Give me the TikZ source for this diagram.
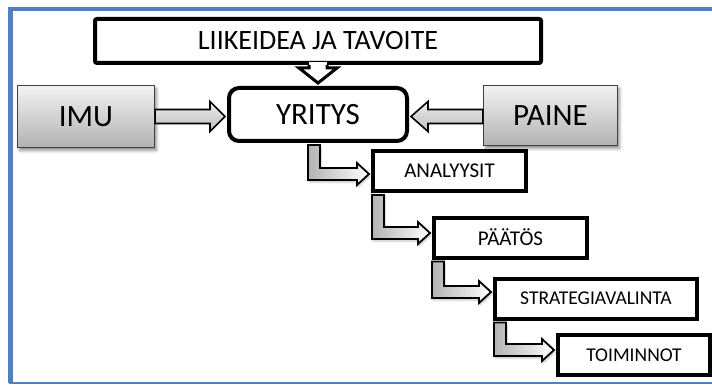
\documentclass[tikz,border=0pt]{standalone}
\usepackage{fontspec}
\setmainfont{Carlito}
\usepackage{tikz}
\usetikzlibrary{calc, shadows.blur}
\usepackage{xcolor}

\definecolor{framebl}{HTML}{4F81BD}

\tikzset{
    ideabox/.style={draw, line width=4pt, rounded corners=2pt, fill=white, inner sep=0pt, font=\fontsize{28}{28}\selectfont},
    firmbox/.style={draw, line width=4pt, rounded corners=10pt, fill=white, inner sep=0pt, font=\fontsize{31}{31}\selectfont},
    forcebox/.style={draw=black!75, line width=1.2pt, top color=black!5, bottom color=black!30, inner sep=0pt,
        blur shadow={shadow xshift=2pt, shadow yshift=-3pt, shadow blur radius=3pt, shadow opacity=45},
        font=\fontsize{31}{31}\selectfont},
    stepbox/.style={draw, line width=4pt, fill=white, inner sep=0pt, minimum height=40pt, font=\fontsize{21}{21}\selectfont},
    pushpull/.style={draw, line width=1.6pt, line join=miter, top color=black!8, bottom color=black!25},
    elbowarrow/.style={draw, line width=1.8pt, line join=miter, left color=black!30, right color=white,
        blur shadow={shadow xshift=1pt, shadow yshift=-2pt, shadow blur radius=2pt, shadow opacity=25}},
}

% block arrow: start, tip, head length (negative points left)
\newcommand{\sidearrow}[3]{%
    \filldraw[pushpull] ($(#1)+(0,-7)$) -- ($(#2)-(#3,7)$) -- ($(#2)-(#3,15)$) -- (#2)
        -- ($(#2)-(#3,-15)$) -- ($(#2)-(#3,-7)$) -- ($(#1)+(0,7)$) -- cycle;}

% elbow arrow: start on a box bottom, tip on the next box left
\newcommand{\elbow}[2]{%
    \filldraw[elbowarrow] ($(#1)+(-6,0)$) |- ($(#2)+(-12,6)$) -- ++(0,5) -- (#2)
        -- ++(-12,-11) -- ++(0,5) -| ($(#1)+(6,0)$) -- cycle;}

\begin{document}
\begin{tikzpicture}[x=1pt, y=-1pt]
    \useasboundingbox (0,0) rectangle (712,385);

    % Blue page frame
    \draw[framebl, line width=4.5pt] (8.5,9) -- (712,9);
    \draw[framebl, line width=5pt] (10.8,7) -- (10.8,383);
    \draw[framebl, line width=1.5pt] (8.5,382.8) -- (712,382.8);

    % Main boxes
    \node[ideabox, minimum width=446pt, minimum height=44pt] (idea) at (318,41) {LIIKEIDEA JA TAVOITE\hspace{57pt}};
    \node[firmbox, minimum width=178pt, minimum height=53pt] (yritys) at (318,114.5) {YRITYS};
    \node[forcebox, minimum width=137pt, minimum height=62pt] (imu) at (86,116.5) {IMU};
    \node[forcebox, minimum width=134pt, minimum height=60pt] (paine) at (550.5,115.5) {PAINE};

    % Steps
    \node[stepbox, minimum width=153pt] (analyysit) at (449.5,171) {ANALYYSIT};
    \node[stepbox, minimum width=153pt] (paatos) at (510.5,237.5) {PÄÄTÖS};
    \node[stepbox, minimum width=202pt, font=\fontsize{19.5}{19.5}\selectfont] (strategia) at (596,298.5) {STRATEGIAVALINTA};
    \node[stepbox, minimum width=152pt, font=\fontsize{19.5}{19.5}\selectfont] (toiminnot) at (634,355) {TOIMINNOT};

    % Arrow from the idea down to the firm
    \coordinate (ideatip) at ($(yritys.north)+(0,-3)$);
    \fill[white] ($(idea.south)+(-9,-2.5)$) rectangle ($(ideatip)+(9,-15)$);
    \draw[line width=3pt, line join=miter, fill=white] ($(idea.south)+(-9,0)$) -- ($(ideatip)+(-9,-15)$) -- ++(-10,0)
        -- (ideatip) -- ($(ideatip)+(19,-15)$) -- ++(-10,0) -- ($(idea.south)+(9,0)$);

    % Pull and push arrows
    \path (yritys.west |- imu.east) ++(-2,0) coordinate (imutip);
    \path (yritys.east |- imu.east) ++(2,0) coordinate (painetip);
    \path (paine.west |- imu.east) coordinate (painestart);
    \sidearrow{imu.east}{imutip}{15}
    \sidearrow{painestart}{painetip}{-17}

    % Elbow arrows between the steps
    \coordinate (e1) at ($(yritys.south)+(-4,2)$);
    \coordinate (t1) at ($(analyysit.west)+(-2,3)$);
    \coordinate (e2) at ($(analyysit.south west)+(7,2)$);
    \coordinate (t2) at ($(paatos.west)+(-2,-4.5)$);
    \coordinate (e3) at ($(paatos.south west)+(6,2)$);
    \coordinate (t3) at ($(strategia.west)+(-2,-6.5)$);
    \coordinate (e4) at ($(strategia.south west)+(7,2)$);
    \coordinate (t4) at ($(toiminnot.west)+(-2,-5)$);
    \elbow{e1}{t1}
    \elbow{e2}{t2}
    \elbow{e3}{t3}
    \elbow{e4}{t4}
\end{tikzpicture}
\end{document}
